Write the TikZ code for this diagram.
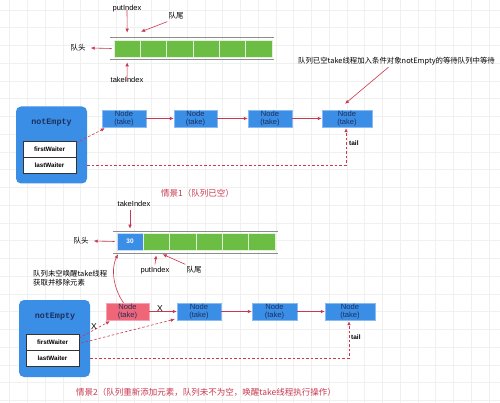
\documentclass[tikz,border=0pt]{standalone}
\usepackage{fontspec}
\setmainfont{Liberation Sans}
\newfontfamily\cjk{Noto Sans CJK SC}
\newfontfamily\monob{Liberation Mono}
\usetikzlibrary{arrows.meta,calc}
\definecolor{qblue}{HTML}{3B8EE6}
\definecolor{qgreen}{HTML}{6BBE43}
\definecolor{qred}{HTML}{C9384D}
\definecolor{qpink}{HTML}{F06679}
\definecolor{qtext}{HTML}{1D2F5C}
\definecolor{qgrid}{HTML}{F0F0F0}
\tikzset{
  redarrow/.style={draw=qred, line width=0.6pt, -{Latex[length=4pt,width=3.5pt]}},
  reddash/.style={redarrow, dashed, dash pattern=on 2.5pt off 2pt},
  qnode/.style={draw=qblue!60!white, fill=qblue, line width=0.4pt, minimum height=17pt, inner sep=0pt,
    text=qtext, font=\fontsize{7.6}{8}\selectfont, align=center},
  cellg/.style={draw=white!80!qgreen, fill=qgreen, line width=0.6pt, minimum height=17pt, inner sep=0pt},
  waiter/.style={draw=black!80, fill=white, line width=0.5pt, minimum width=53pt, minimum height=16pt,
    inner sep=0pt, font=\bfseries\fontsize{6.3}{7}\selectfont},
  nebox/.style={fill=qblue, rounded corners=5pt, inner sep=0pt},
  lbl/.style={font=\fontsize{7.5}{8}\selectfont, inner sep=0pt},
  cjklbl/.style={font=\cjk\fontsize{7.5}{8.5}\selectfont, inner sep=0pt},
  qline/.style={draw=black!45, line width=0.9pt},
}
\begin{document}
\begin{tikzpicture}[x=1pt,y=-1pt]
\useasboundingbox (0,0) rectangle (500,403);
\fill[white] (0,0) rectangle (500,403);
% grid
\foreach \i in {0,...,28} { \draw[qgrid, line width=0.4pt] ({9.5+17.75*\i},0) -- ({9.5+17.75*\i},403); }
\foreach \j in {0,...,22} { \draw[qgrid, line width=0.4pt] (0,{9.8+17.75*\j}) -- (500,{9.8+17.75*\j}); }

% ---------- Scene 1 queue ----------
\draw[qline] (110,37) -- (274,37);
\draw[qline] (110,59.5) -- (274,59.5);
\foreach \k in {1,...,6} {
  \node[cellg, minimum width=26.3pt] (c1\k) at ({114+26.33*(\k-0.5)},48.5) {};
}
\node[lbl] (put1) at (127,9) {putIndex};
\node[cjklbl] (tail1) at (176,16) {队尾};
\node[cjklbl] (head1) at (78,48) {队头};
\node[lbl] (take1) at (127,80) {takeIndex};
\draw[redarrow] (put1.south) ++(0,-3) -- ($(c11.north)+(0,-7)$);
\draw[redarrow] ($(tail1.south west)+(-1,2)$) -- ($(c12.north west)+(1,-8)$);
\draw[redarrow] (c11.west) ++(-2,0) -- ($(head1.east)+(5,0)$);
\draw[redarrow] (take1.north) ++(0,4) -- ($(c11.south)+(0,5)$);

% scene 1 annotation
\node[font=\cjk\fontsize{7.4}{8}\selectfont, inner sep=0pt] (ann1) at (396.5,61) {队列已空take线程加入条件对象notEmpty的等待队列中等待};

% notEmpty box 1
\node[nebox, minimum width=71pt, minimum height=77pt] (ne1) at (51.5,145) {};
\node[font=\monob\bfseries\fontsize{8.4}{9}\selectfont, text=qtext, inner sep=0pt] (nt1) at (51.5,123) {notEmpty};
\node[waiter] (fw1) at (49.5,149) {firstWaiter};
\node[waiter] (lw1) at (49.5,165) {lastWaiter};

% nodes row 1
\node[qnode, minimum width=44pt] (n1) at (124,118.5) {Node\\(take)};
\node[qnode, minimum width=43pt] (n2) at (195.5,118.5) {Node\\(take)};
\node[qnode, minimum width=44pt] (n3) at (270,118.5) {Node\\(take)};
\node[qnode, minimum width=50pt] (n4) at (347,118.5) {Node\\(take)};
\draw[redarrow] (n1.east) -- (n2.west);
\draw[redarrow] (n2.east) -- (n3.west);
\draw[redarrow] (n3.east) -- (n4.west);
\draw[reddash] ($(fw1.east)+(0,-6)$) -- ($(n1.south west)+(3,1)$);
\draw[reddash] (ne1.east |- lw1.east) -| ($(n4.south)+(-1,1)$);
\node[font=\bfseries\fontsize{6.5}{7}\selectfont, inner sep=0pt, anchor=west] (tl1) at (349,143) {tail};
\draw[redarrow] ($(ann1.south)+(-8,2)$) -- ($(n4.north)+(-2,-6)$);

\node[font=\cjk\fontsize{8.5}{9}\selectfont, text=qred, inner sep=0pt] (s1) at (197.5,193) {情景1（队列已空）};

% ---------- Scene 2 queue ----------
\draw[qline] (113,231) -- (278,231);
\draw[qline] (113,253) -- (278,253);
\node[draw=white!70!qblue, fill=qblue, line width=0.6pt, minimum width=26pt, minimum height=17pt, inner sep=0pt,
  text=white, font=\bfseries\fontsize{6.5}{7}\selectfont] (b0) at (130,241.5) {30};
\foreach \k in {1,...,5} {
  \node[cellg, minimum width=26.4pt] (c2\k) at ({143+26.4*(\k-0.5)},241.5) {};
}
\node[lbl] (take2) at (134,204) {takeIndex};
\node[cjklbl] (head2) at (81,241) {队头};
\node[lbl] (put2) at (155,271) {putIndex};
\node[cjklbl] (tail2) at (194,270) {队尾};
\draw[redarrow] ($(take2.south)+(-4,3)$) -- ($(b0.north)+(0,-4)$);
\draw[redarrow] (b0.west) ++(-2,0) -- ($(head2.east)+(5,0)$);
\draw[redarrow] ($(put2.north)+(0,-3)$) -- ($(c21.south)+(0,5)$);
\draw[redarrow] ($(tail2.north west)+(-1,-2)$) -- ($(c21.south east)+(-7,4)$);

\node[font=\cjk\fontsize{7.4}{8.3}\selectfont, inner sep=0pt, align=left, anchor=north west] (ann2) at (33,270.5) {队列未空唤醒take线程\\获取并移除元素};

% notEmpty box 2
\node[nebox, minimum width=71pt, minimum height=77pt] (ne2) at (54.5,338.5) {};
\node[font=\monob\bfseries\fontsize{8.4}{9}\selectfont, text=qtext, inner sep=0pt] (nt2) at (55,317) {notEmpty};
\node[waiter] (fw2) at (52.5,342) {firstWaiter};
\node[waiter] (lw2) at (52.5,358) {lastWaiter};

% nodes row 2
\node[qnode, fill=qpink, draw=qpink!60!white, minimum width=43pt] (r1) at (127.5,311.5) {Node\\(take)};
\node[qnode, minimum width=44pt] (m2) at (199,311.5) {Node\\(take)};
\node[qnode, minimum width=45pt] (m3) at (274.5,311.5) {Node\\(take)};
\node[qnode, minimum width=50pt] (m4) at (350,311.5) {Node\\(take)};
\draw[redarrow] (r1.east) -- (m2.west);
\draw[redarrow] (m2.east) -- (m3.west);
\draw[redarrow] (m3.east) -- (m4.west);
\draw[reddash] ($(fw2.east)+(0,-4)$) -- ($(r1.south west)+(4,1)$);
\draw[reddash] ($(fw2.east)+(2,1)$) -- ($(m2.south west)+(-2,-1)$);
\draw[reddash] (ne2.east |- lw2.east) -| ($(m4.south)+(-1,1)$);
\node[font=\bfseries\fontsize{6.5}{7}\selectfont, inner sep=0pt, anchor=west] (tl2) at (351,337) {tail};
\draw[redarrow] ($(r1.north)+(-4,0)$) .. controls (113,288) and (111,268) .. ($(b0.south)+(-12,4)$);
\node[font=\fontsize{8.5}{8.5}\selectfont, inner sep=0pt] (x1) at (160,309) {X};
\node[font=\fontsize{8.5}{8.5}\selectfont, inner sep=0pt] (x2) at (94,327) {X};

\node[font=\cjk\fontsize{8.5}{9}\selectfont, text=qred, inner sep=0pt, anchor=west] (s2) at (76,392) {情景2（队列重新添加元素，队列未不为空，唤醒take线程执行操作）};
\end{tikzpicture}
\end{document}
